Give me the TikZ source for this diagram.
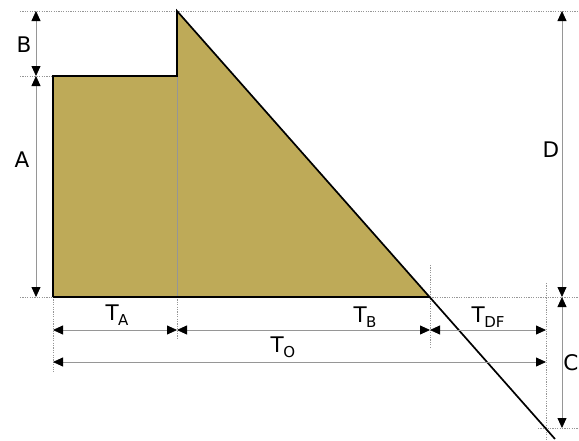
\documentclass[tikz,border=0pt]{standalone}
\usepackage{fontspec}
\setmainfont{DejaVu Sans}
\usetikzlibrary{arrows.meta}
\definecolor{khaki}{RGB}{190,170,88}
\definecolor{dimgray}{RGB}{150,150,150}
\newcommand\Tsub[1]{T\kern-0.02em\raisebox{-0.45ex}{\fontsize{15}{15}\selectfont #1}}
\tikzset{
  outline/.style={draw=black, line width=1.7pt, line join=miter},
  guide/.style={draw=dimgray, line width=0.6pt, dash pattern=on 1.2pt off 1.2pt},
  thin/.style={draw=dimgray, line width=0.7pt},
  dim/.style={draw=dimgray, line width=0.8pt, {Triangle[length=10pt,width=9pt,color=black]}-{Triangle[length=10pt,width=9pt,color=black]}},
  lbl/.style={font=\fontsize{21.5}{21.5}\selectfont, anchor=base, inner sep=0pt, text=black}
}
\begin{document}
\begin{tikzpicture}[x=1pt,y=-1pt]
\useasboundingbox (0,0) rectangle (579,440);
% key points
\coordinate (topc) at (177,11);
\coordinate (stepL) at (53,76);
\coordinate (stepR) at (177,76);
\coordinate (baseL) at (53,297);
\coordinate (baseR) at (430,297);
\coordinate (diagEnd) at (555,439);
% guides
\draw[guide] (20,11) -- (579,11);
\draw[guide] (20,76) -- (stepL);
\draw[guide] (20,297) -- (baseL);
\draw[guide] (baseR) -- (579,297);
\draw[guide] (538,428) -- (579,428);
\draw[guide] (baseL) -- (53,372);
\draw[guide] (177,297) -- (177,340);
\draw[guide] (430,265) -- (430,348);
\draw[guide] (546,283) -- (546,440);
% shape
\fill[khaki] (stepL) -- (stepR) -- (topc) -- (baseR) -- (baseL) -- cycle;
\draw[thin] (stepR) -- (177,297);
\draw[outline] (baseL) -- (stepL) -- (stepR) -- (topc) -- (diagEnd);
\draw[outline] (baseL) -- (baseR);
% dimension end points
\coordinate (lB1) at (36,11);
\coordinate (lB2) at (36,76);
\coordinate (lA2) at (36,297);
\coordinate (rD1) at (562,11);
\coordinate (rD2) at (562,297);
\coordinate (rC2) at (562,428);
\coordinate (hA1) at (53,330);
\coordinate (hA2) at (177,330);
\coordinate (hB2) at (430,330);
\coordinate (hD2) at (546,330);
\coordinate (hO1) at (53,362);
\coordinate (hO2) at (546,362);
\draw[dim] (lB1) -- (lB2);
\draw[dim] (lB2) -- (lA2);
\draw[dim] (rD1) -- (rD2);
\draw[dim] (rD2) -- (rC2);
\draw[dim] (hA1) -- (hA2);
\draw[dim] (hA2) -- (hB2);
\draw[dim] (hB2) -- (hD2);
\draw[dim] (hO1) -- (hO2);
% labels
\node[lbl] (B) at (24,52) {B};
\node[lbl] (A) at (22,167) {A};
\node[lbl] (D) at (551,157) {D};
\node[lbl] (C) at (571,370) {C};
\node[lbl] (TA) at (117,320) {\Tsub{A}};
\node[lbl] (TB) at (365,322) {\Tsub{B}};
\node[lbl] (TDF) at (488,322) {\Tsub{DF}};
\node[lbl] (TO) at (283,352) {\Tsub{O}};
\end{tikzpicture}
\end{document}
